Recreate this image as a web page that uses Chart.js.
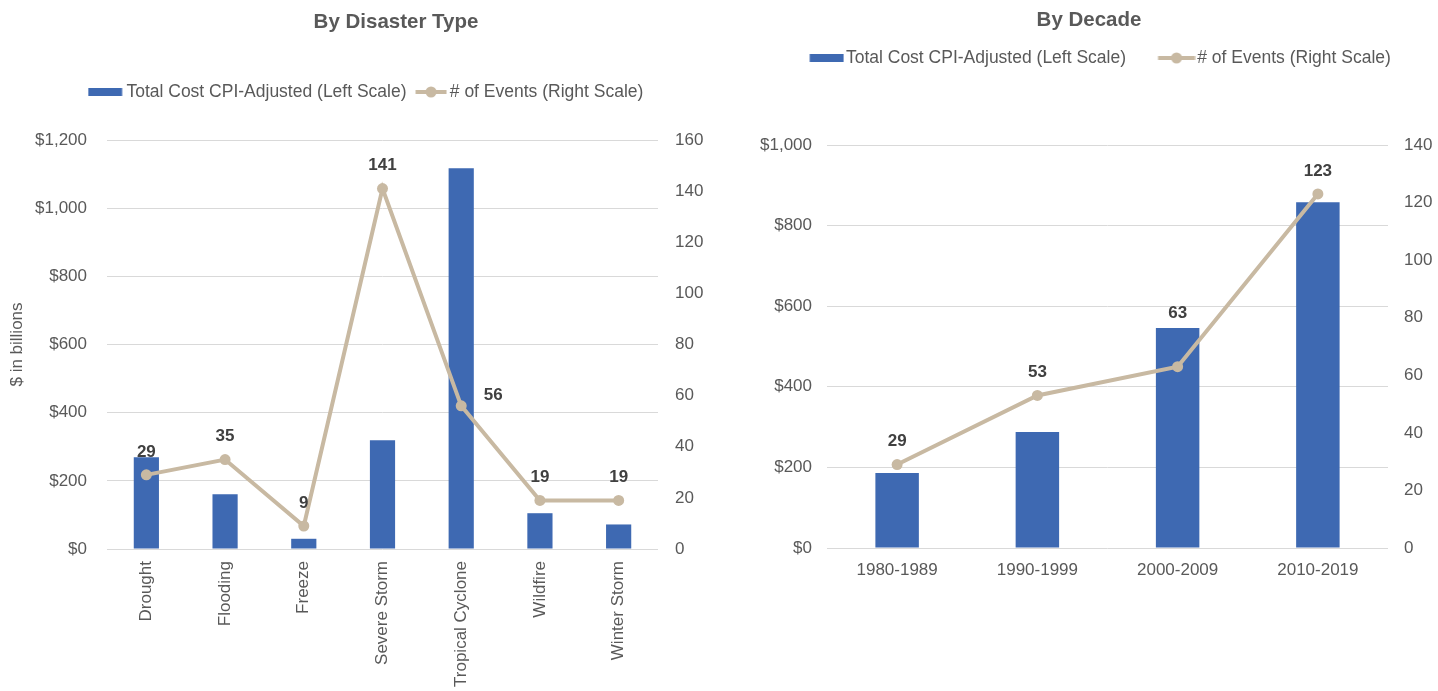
<!DOCTYPE html>
<html>
<head>
<meta charset="utf-8">
<script src="https://cdn.jsdelivr.net/npm/chart.js@4/dist/chart.umd.min.js"></script>
<style>
  html, body { margin: 0; padding: 0; background: #fff; }
  body { width: 1438px; height: 691px; position: relative; overflow: hidden; }
  canvas { position: absolute; top: 0; }
</style>
</head>
<body>
<canvas id="byType" width="792" height="691" style="left:0"></canvas>
<canvas id="byDecade" width="698" height="691" style="left:740px"></canvas>
<script>
// data
const typeLabels = ['Drought', 'Flooding', 'Freeze', 'Severe Storm', 'Tropical Cyclone', 'Wildfire', 'Winter Storm'];
const typeCost = [269, 161, 30, 319, 1117, 105, 72];
const typeEvents = [29, 35, 9, 141, 56, 19, 19];

const decadeLabels = ['1980-1989', '1990-1999', '2000-2009', '2010-2019'];
const decadeCost = [186, 288, 546, 858];
const decadeEvents = [29, 53, 63, 123];

const costName = 'Total Cost CPI-Adjusted (Left Scale)';
const eventsName = '# of Events (Right Scale)';

const BLUE = '#3E69B2';
const TAN = '#C8B9A2';
const GREY = '#595959';
const FONT = '"Liberation Sans", Arial, sans-serif';

Chart.defaults.font.family = FONT;
Chart.defaults.color = GREY;

// legend icons: B = box width chart.js reserves, a/w = where the visible icon sits
function legendIcon(kind, B, a, w) {
  const half = Math.ceil(Math.max(Math.abs(a - B / 2), Math.abs(a + w - B / 2), 1));
  const c = document.createElement('canvas');
  c.width = half * 2;
  c.height = 12;
  const ctx = c.getContext('2d');
  const x0 = half + (a - B / 2);
  if (kind === 'bar') {
    ctx.fillStyle = BLUE;
    ctx.fillRect(x0, 2, w, 8);
  } else if (kind === 'line') {
    ctx.strokeStyle = TAN;
    ctx.lineWidth = 4;
    ctx.beginPath();
    ctx.moveTo(x0, 6);
    ctx.lineTo(x0 + w, 6);
    ctx.stroke();
    ctx.fillStyle = TAN;
    ctx.beginPath();
    ctx.arc(x0 + w / 2, 6, 5.5, 0, Math.PI * 2);
    ctx.fill();
  }
  return c;
}

// bold numbers over the line points
const pointLabels = {
  id: 'pointLabels',
  afterDatasetsDraw(chart) {
    const shifts = chart.$labelShifts || {};
    const meta = chart.getDatasetMeta(1);
    const values = chart.data.datasets[1].data;
    const ctx = chart.ctx;
    ctx.save();
    ctx.font = 'bold 17px ' + FONT;
    ctx.fillStyle = '#404040';
    ctx.textAlign = 'center';
    ctx.textBaseline = 'middle';
    meta.data.forEach((pt, i) => {
      const s = shifts[i] || [0, -23];
      ctx.fillText(values[i], pt.x + s[0], pt.y + s[1]);
    });
    ctx.restore();
  }
};

function makeChart(id, cfg) {
  const icons = [legendIcon('bar', cfg.box, cfg.barIcon[0], cfg.barIcon[1]),
                 legendIcon('line', cfg.box, cfg.lineIcon[0], cfg.lineIcon[1])];
  const blank = legendIcon('none', cfg.box, 0, 0);
  const chart = new Chart(document.getElementById(id), {
    type: 'bar',
    data: {
      labels: cfg.labels,
      datasets: [
        {
          label: costName,
          data: cfg.cost,
          backgroundColor: BLUE,
          yAxisID: 'y',
          order: 1,
          barPercentage: cfg.barPct,
          categoryPercentage: 1,
        },
        {
          type: 'line',
          label: eventsName,
          data: cfg.events,
          borderColor: TAN,
          backgroundColor: TAN,
          borderWidth: 4,
          pointRadius: 5.5,
          pointBorderWidth: 0,
          pointBackgroundColor: TAN,
          tension: 0,
          yAxisID: 'y1',
          order: 0,
        },
      ],
    },
    options: {
      responsive: false,
      animation: false,
      devicePixelRatio: 1,
      layout: { padding: 0 },
      plugins: {
        tooltip: { enabled: false },
        title: {
          display: true,
          text: cfg.title,
          color: GREY,
          font: { size: 20.5, weight: 'bold' },
          padding: { top: cfg.titlePad[0], bottom: cfg.titlePad[1] },
        },
        legend: {
          display: true,
          labels: {
            color: GREY,
            font: { size: 17.5 },
            usePointStyle: true,
            pointStyleWidth: cfg.box,
            padding: 12.5,
            generateLabels: (ch) => {
              const items = Chart.defaults.plugins.legend.labels.generateLabels(ch)
                .sort((a, b) => a.datasetIndex - b.datasetIndex);
              items.forEach((it) => { it.pointStyle = icons[it.datasetIndex]; });
              // empty trailing entry, only there to push the row a bit to the left
              if (cfg.legendTail) {
                items.push({ text: cfg.legendTail, pointStyle: blank, fontColor: GREY, hidden: false, lineWidth: 0 });
              }
              return items;
            },
          },
          onClick: () => {},
        },
        // empty subtitle used as gap between legend and plot
        subtitle: {
          display: true,
          text: '',
          weight: 500,
          padding: 0,
          font: { size: cfg.gap, lineHeight: 1 },
        },
      },
      scales: {
        x: {
          grid: { display: false },
          border: { display: false },
          ticks: {
            color: GREY,
            font: { size: 17 },
            padding: cfg.xPad,
            autoSkip: false,
            minRotation: cfg.rot,
            maxRotation: cfg.rot,
          },
          afterFit: (s) => { s.height = cfg.xHeight; },
        },
        y: {
          position: 'left',
          min: 0,
          max: cfg.costMax,
          grid: { color: '#D9D9D9', lineWidth: 1, drawTicks: false },
          border: { display: false },
          ticks: {
            stepSize: 200,
            color: GREY,
            font: { size: 17 },
            padding: cfg.yPad,
            callback: (v) => '$' + v.toLocaleString('en-US'),
          },
          title: {
            display: !!cfg.yTitle,
            text: cfg.yTitle || '',
            color: GREY,
            font: { size: 17 },
            padding: { top: 7.5, bottom: 0 },
          },
          afterFit: (s) => { s.width = cfg.yWidth; },
        },
        y1: {
          position: 'right',
          min: 0,
          max: cfg.eventsMax,
          grid: { drawOnChartArea: false, drawTicks: false },
          border: { display: false },
          ticks: {
            stepSize: 20,
            color: GREY,
            font: { size: 17 },
            padding: cfg.y1Pad,
          },
          afterFit: (s) => { s.width = cfg.y1Width; },
        },
      },
    },
    plugins: [pointLabels],
  });
  chart.$labelShifts = cfg.shifts;
  chart.draw();
  return chart;
}

makeChart('byType', {
  title: 'By Disaster Type',
  labels: typeLabels,
  cost: typeCost,
  events: typeEvents,
  costMax: 1200,
  eventsMax: 160,
  legendTail: '  ',
  titlePad: [9.7, 36.45],
  gap: 29.25,
  box: 22,
  barIcon: [-7.5, 34],
  lineIcon: [-3.5, 31],
  barPct: 0.32,
  rot: 90,
  xPad: 4,
  xHeight: 142,
  yWidth: 107,
  yPad: 20,
  y1Width: 134,
  y1Pad: 17,
  yTitle: '$ in billions',
  shifts: { 4: [32, -11] },
});

makeChart('byDecade', {
  title: 'By Decade',
  labels: decadeLabels,
  cost: decadeCost,
  events: decadeEvents,
  costMax: 1000,
  eventsMax: 140,
  legendTail: null,
  titlePad: [7.7, 4.45],
  gap: 68.25,
  box: 50,
  barIcon: [22.5, 34],
  lineIcon: [19.5, 37],
  barPct: 0.31,
  rot: 0,
  xPad: 4,
  xHeight: 143,
  yWidth: 87,
  yPad: 15,
  y1Width: 50,
  y1Pad: 16,
  yTitle: null,
  shifts: { 2: [0, -53] },
});
</script>
</body>
</html>
